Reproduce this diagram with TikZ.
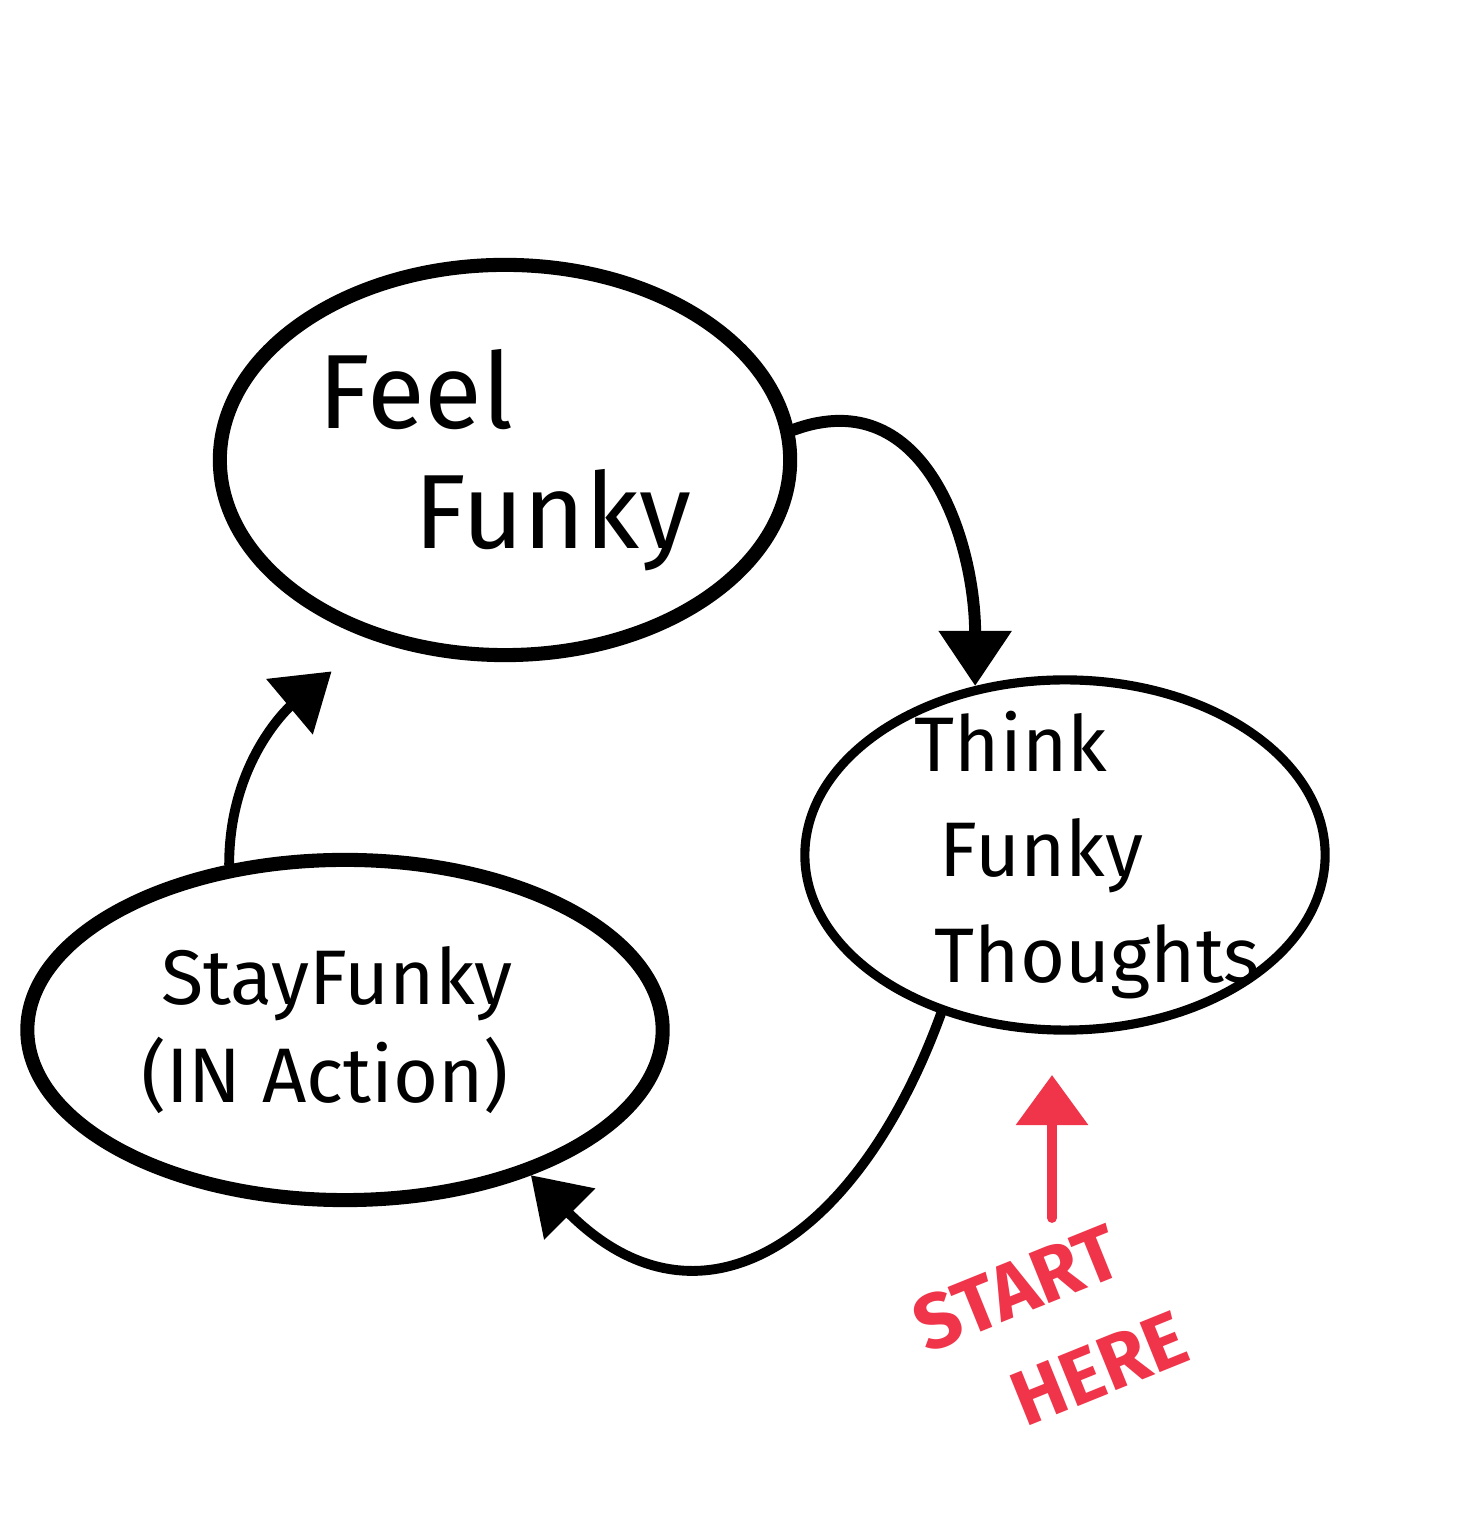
\documentclass[tikz,border=0pt]{standalone}
\usepackage{fontspec}
\setmainfont{Fira Sans}
\usetikzlibrary{
  arrows.meta,
  shapes.geometric
}
\definecolor{ink}{HTML}{000000}
\definecolor{paper}{HTML}{FFFFFF}
\definecolor{marker}{HTML}{F0344A}
\tikzset{
  funky/.style={
    ellipse,
    draw=ink,
    line width=4pt,
    inner sep=-1cm,
    align=left
  },
  flow/.style={
    -{Triangle[length=5.5mm,width=7mm]},
    line width=2.8pt,
    draw=ink,
    line cap=round
  },
  startflow/.style={
    -{Triangle[length=5mm,width=7mm]},
    line width=2.8pt,
    draw=marker,
    line cap=round
  },
  markertext/.style={
    text=marker,
    inner sep=0pt,
    align=left,
    font=\fontsize{22}{30}\selectfont\bfseries,
    rotate=22
  }
}

\begin{document}
\begin{tikzpicture}[x=0.01cm, y=0.01cm]
  \fill[paper] (0,0) rectangle (1456,1539);
  \useasboundingbox (0,0) rectangle (1456,1539);
  % the three states
  \node[funky, minimum width=5.7cm, minimum height=3.9cm,
    font=\fontsize{30}{34}\selectfont] (feel) at (505,1079)
    {Feel\\\hspace*{0.95cm}Funky};
  \node[funky, line width=2.6pt, minimum width=5.2cm, minimum height=3.5cm,
    font=\fontsize{22}{30}\selectfont] (think) at (1065,684)
    {\hspace*{0.45cm}Think\\\hspace*{0.7cm}Funky\\\hspace*{0.65cm}Thoughts};
  \node[funky, minimum width=6.35cm, minimum height=3.4cm,
    font=\fontsize{22}{28}\selectfont] (stay) at (345,509)
    {\hspace*{0.2cm}StayFunky\\(IN Action)\hspace*{0.4cm}};
  % the loop
  \draw[flow, line width=3.4pt] (feel.6) to[out=20, in=90, looseness=1.15] (think.118);
  \draw[flow] (think.232) to[out=-110, in=-45, looseness=1.4] (stay.-38);
  \draw[flow, shorten >=5mm] (stay.125) to[out=90, in=-140] (feel.-127);
  % where to begin
  \coordinate (redtail) at (1052,321);
  \coordinate (redhead) at (1052,464);
  \draw[startflow] (redtail) -- (redhead);
  \node[markertext] (startnote) at (1050,208) {START\\\hspace*{0.63cm}HERE};
\end{tikzpicture}
\end{document}
